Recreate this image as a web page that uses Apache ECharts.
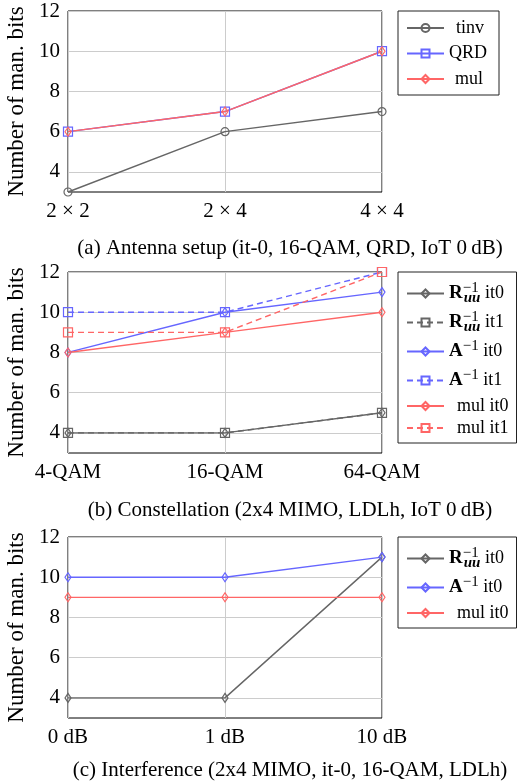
<!DOCTYPE html>
<html>
<head>
<meta charset="utf-8">
<script src="https://cdn.jsdelivr.net/npm/echarts@6/dist/echarts.min.js"></script>
<style>
html, body { margin: 0; padding: 0; background: #fff; }
#chart { width: 530px; height: 783px; }
</style>
</head>
<body>
<div id="chart"></div>
<script>
// (a) antenna setup
var antennaCats = ['2 × 2', '2 × 4', '4 × 4']
var tinvBits = [3, 6, 7]
var qrdBits = [6, 7, 10]
var mulBits = [6, 7, 10]

// (b) constellation
var qamCats = ['4-QAM', '16-QAM', '64-QAM']
var rIt0 = [4, 4, 5]
var rIt1 = [4, 4, 5]
var aIt0 = [8, 10, 11]
var aIt1 = [10, 10, 12]
var mulIt0 = [8, 9, 10]
var mulIt1 = [9, 9, 12]

// (c) interference
var iotCats = ['0 dB', '1 dB', '10 dB']
var rIot = [4, 4, 11]
var aIot = [10, 10, 11]
var mulIot = [9, 9, 9]

var yTicks = [4, 6, 8, 10, 12]
var captions = [
  '(a) Antenna setup (it-0, 16-QAM, QRD, IoT 0\u2009dB)',
  '(b) Constellation (2x4 MIMO, LDLh, IoT 0\u2009dB)',
  '(c) Interference (2x4 MIMO, it-0, 16-QAM, LDLh)'
]

var FONT = '"Liberation Serif", "DejaVu Serif", serif'
var GRAY = '#666666'
var BLUE = '#6666ff'
var RED = '#ff6666'
var gridTops = [11, 272, 537]
var captionTops = [238, 500, 760]
var legendTops = [11, 272, 537]

function makeLine (name, data, idx, color, symbol, dashed) {
  return {
    name: name,
    type: 'line',
    xAxisIndex: idx,
    yAxisIndex: idx,
    data: data,
    symbol: symbol,
    symbolSize: symbol === 'diamond' ? [6, 9] : (symbol === 'rect' ? 9 : 8),
    showAllSymbol: true,
    itemStyle: { color: 'transparent', borderColor: color, borderWidth: 1.2 },
    lineStyle: { color: color, width: 1.4, type: dashed ? [6, 4] : 'solid' },
    emphasis: { disabled: true },
    animation: false
  }
}

var grids = []
var xAxes = []
var yAxes = []
var cats = [antennaCats, qamCats, iotCats]
for (var i = 0; i < 3; i++) {
  grids.push({
    left: 68, top: gridTops[i], width: 314, height: 181,
    containLabel: false,
    outerBoundsMode: 'none',
    show: true, borderColor: '#000', borderWidth: 1, backgroundColor: 'transparent'
  })
  xAxes.push({
    type: 'category',
    gridIndex: i,
    data: cats[i],
    boundaryGap: false,
    axisLine: { show: false },
    axisTick: { show: false },
    axisLabel: { color: '#000', fontFamily: FONT, fontSize: 21, margin: 9 },
    splitLine: { show: true, lineStyle: { color: '#cccccc', width: 1 } }
  })
  yAxes.push({
    type: 'value',
    gridIndex: i,
    min: 3,
    max: 12,
    name: 'Number of man. bits',
    nameLocation: 'middle',
    nameGap: 38,
    nameTextStyle: { color: '#000', fontFamily: FONT, fontSize: 23 },
    axisLine: { show: false },
    axisTick: { show: false, customValues: yTicks },
    axisLabel: { color: '#000', fontFamily: FONT, fontSize: 21, margin: 8, customValues: yTicks },
    splitLine: { show: true, lineStyle: { color: '#cccccc', width: 1 } }
  })
}

var richBase = { fontFamily: FONT, fontSize: 18, color: '#000', lineHeight: 18 }
function rs (extra) {
  return Object.assign({}, richBase, extra)
}
var legendRich = {
  r: rs({ fontWeight: 'bold', fontSize: 19 }),
  sp: rs({ fontSize: 15, width: 1, padding: [0, 0, 10, 0] }),
  spa: rs({ fontSize: 15, padding: [0, 0, 10, 0] }),
  sb: rs({ fontSize: 15, fontStyle: 'italic', fontWeight: 'bold', padding: [10, 0, 0, 0] }),
  t: rs({}),
  m: rs({ padding: [0, 0, 0, 8] }),
  p0: rs({}),
  p6: rs({ padding: [0, 0, 0, 6] }),
  p7: rs({ padding: [0, 0, 0, 7] })
}
var plainPad = { tinv: 'p7', QRD: 'p0', mul: 'p6' }
function legendName (name) {
  if (plainPad[name]) return '{' + plainPad[name] + '|' + name + '}'
  var n = name.slice(2)
  var parts = n.split(' ')
  if (parts[0] === 'R') return '{r|R}{sp|\u22121}{sb|uu}{t| ' + parts[1] + '}'
  if (parts[0] === 'A') return '{r|A}{spa|\u22121}{t| ' + parts[1] + '}'
  return '{m|' + n + '}'
}

function legendBox (idx, names, gap, padding) {
  return {
    orient: 'vertical',
    left: 398,
    top: legendTops[idx],
    data: names,
    itemWidth: 37,
    itemHeight: 10,
    itemGap: gap,
    padding: padding,
    backgroundColor: '#fff',
    borderColor: '#222',
    borderWidth: 1,
    borderRadius: 0,
    selectedMode: false,
    formatter: legendName,
    textStyle: Object.assign({}, richBase, { rich: legendRich })
  }
}

var option = {
  animation: false,
  backgroundColor: '#fff',
  title: captions.map(function (c, k) {
    return {
      text: c,
      left: 290,
      top: captionTops[k],
      textAlign: 'center',
      padding: 0,
      textStyle: { fontFamily: FONT, fontSize: 21, fontWeight: 'normal', color: '#000' }
    }
  }),
  grid: grids,
  xAxis: xAxes,
  yAxis: yAxes,
  legend: [
    legendBox(0, ['tinv', 'QRD', 'mul'], 7.5, [8, 12, 7, 8]),
    legendBox(1, ['b:R it0', 'b:R it1', 'b:A it0', 'b:A it1', 'b:mul it0', 'b:mul it1'], 4, [9, 8, 6, 8]),
    legendBox(2, ['c:R it0', 'c:A it0', 'c:mul it0'], 4, [9, 8, 6, 8])
  ],
  series: [
    makeLine('tinv', tinvBits, 0, GRAY, 'circle', false),
    makeLine('QRD', qrdBits, 0, BLUE, 'rect', false),
    makeLine('mul', mulBits, 0, RED, 'diamond', false),

    makeLine('b:R it0', rIt0, 1, GRAY, 'diamond', false),
    makeLine('b:R it1', rIt1, 1, GRAY, 'rect', true),
    makeLine('b:A it0', aIt0, 1, BLUE, 'diamond', false),
    makeLine('b:A it1', aIt1, 1, BLUE, 'rect', true),
    makeLine('b:mul it0', mulIt0, 1, RED, 'diamond', false),
    makeLine('b:mul it1', mulIt1, 1, RED, 'rect', true),

    makeLine('c:R it0', rIot, 2, GRAY, 'diamond', false),
    makeLine('c:A it0', aIot, 2, BLUE, 'diamond', false),
    makeLine('c:mul it0', mulIot, 2, RED, 'diamond', false)
  ]
}

var myChart = echarts.init(document.getElementById('chart'))
myChart.setOption(option)
</script>
</body>
</html>
